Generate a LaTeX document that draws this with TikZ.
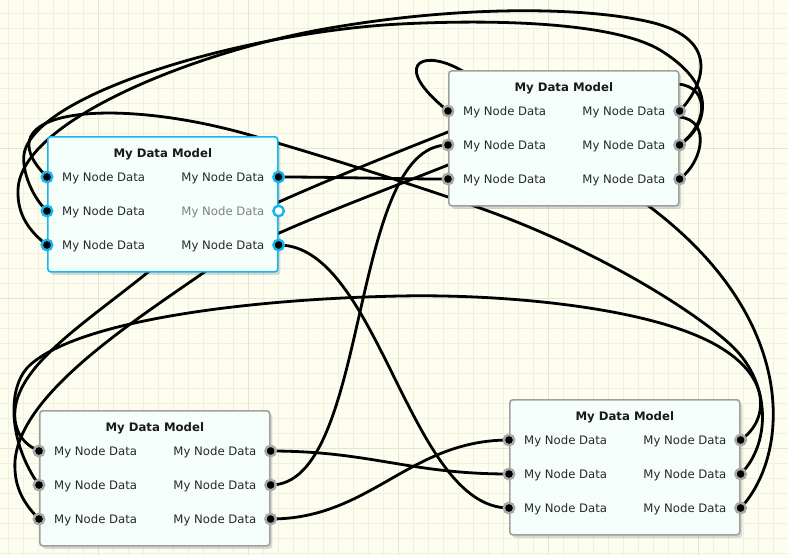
\documentclass[tikz,border=0pt]{standalone}
\usepackage{fontspec}
\setmainfont{DejaVu Sans}
\usepackage{tikz}
\usetikzlibrary{calc, shadows}
\definecolor{canvasbg}{RGB}{253, 253, 240}
\definecolor{gridthin}{RGB}{240, 240, 225}
\definecolor{gridthick}{RGB}{229, 229, 212}
\definecolor{boxfill}{RGB}{244, 255, 251}
\definecolor{boxline}{RGB}{160, 160, 160}
\definecolor{selblue}{RGB}{20, 182, 240}
\definecolor{portring}{RGB}{168, 168, 168}
\definecolor{labeltext}{RGB}{40, 40, 40}
\pgfdeclarelayer{grid}
\pgfdeclarelayer{links}
\pgfsetlayers{grid,links,main}
\tikzset{
  box/.style={draw=boxline, line width=1.6pt, fill=boxfill, rounded corners=3pt,
    minimum width=230pt, minimum height=135pt, inner sep=0pt,
    drop shadow={shadow xshift=2.5pt, shadow yshift=-3pt, fill=black, opacity=0.14}},
  box A/.style={draw=selblue},
  port/.style={circle, draw=portring, line width=2.4pt, fill=black, minimum size=10.5pt, inner sep=0pt},
  port A/.style={draw=selblue},
  port A-out-2/.style={fill=white},
  title/.style={font=\fontsize{11.7}{13}\selectfont\bfseries, text=black!90, anchor=base, inner sep=0pt},
  lbl/.style={font=\fontsize{11.7}{13}\selectfont, text=labeltext, inner sep=0pt},
  lbl A-out-2/.style={text=black!50},
  link/.style={line width=2.8pt, black}
}

\begin{document}
\begin{tikzpicture}[x=1pt, y=-1pt]
\useasboundingbox (0,0) rectangle (788,555);
\begin{pgfonlayer}{grid}
\fill[canvasbg] (0,0) rectangle (788,555);
\foreach \gx in {8,23,...,788} \draw[gridthin, line width=1pt] (\gx,0) -- (\gx,555);
\foreach \gy in {13,28,...,555} \draw[gridthin, line width=1pt] (0,\gy) -- (788,\gy);
\foreach \gx in {98,248,...,788} \draw[gridthick, line width=1pt] (\gx,0) -- (\gx,555);
\foreach \gy in {148,298,448} \draw[gridthick, line width=1pt] (0,\gy) -- (788,\gy);
\end{pgfonlayer}

% data models
\foreach \m/\x/\y in {A/47/136, B/448/70, C/39/410, D/509/399} {
  \node[box, box \m/.try, anchor=north west] (\m) at (\x,\y) {};
  \node[title] (\m-title) at ($(\m.north)+(0,21)$) {My Data Model};
  \foreach \i/\dy in {1/41, 2/75, 3/109} {
    \node[port, port \m/.try] (\m-in-\i) at ($(\m.north west)+(0,\dy)$) {};
    \node[port, port \m/.try, port \m-out-\i/.try] (\m-out-\i) at ($(\m.north east)+(0,\dy)$) {};
    \node[lbl, anchor=base west] (\m-il-\i) at ($(\m-in-\i)+(15,4)$) {My Node Data};
    \node[lbl, lbl \m-out-\i/.try, anchor=base east] (\m-ol-\i) at ($(\m-out-\i)+(-14,4)$) {My Node Data};
  }
}

% links
\begin{pgfonlayer}{links}
\draw[link] (A-out-1.center) .. controls +(60,0) and +(-60,0) .. (B-in-3.center);
\draw[link] (A-out-3.center) .. controls +(100,0) and +(-100,0) .. (D-in-3.center);
\draw[link] (C-out-1.center) .. controls +(100,0) and +(-100,0) .. (D-in-2.center);
\draw[link] (C-out-2.center) .. controls +(100,0) and +(-100,0) .. (B-in-2.center);
\draw[link] (C-out-3.center) .. controls +(100,0) and +(-100,0) .. (D-in-1.center);
\draw[link] (D-out-3.center) .. controls (790,455) and (800,320) .. (650,207)
  .. controls (600,169) and (500,90) .. (457,68) .. controls (420,49) and (392,66) .. (B-in-1.center);
\draw[link] (D-out-2.center) .. controls (770,445) and (772,385) .. (733,347)
  .. controls (700,315) and (600,250) .. (477,207) .. controls (420,187) and (330,158) .. (250,135)
  .. controls (110,95) and (-20,110) .. (A-in-1.center);
\draw[link] (D-out-1.center) .. controls (770,420) and (775,370) .. (700,337)
  .. controls (630,306) and (500,294) .. (400,296) .. controls (250,299) and (80,320) .. (30,365)
  .. controls (5,388) and (10,445) .. (C-in-2.center);
\draw[link] (B-out-1.center) .. controls (700,90) and (726,40) .. (650,22)
  .. controls (590,8) and (470,4) .. (330,28) .. controls (200,50) and (20,120) .. (18,190)
  .. controls (17,215) and (30,232) .. (A-in-3.center);
\draw[link] (B-out-2.center) .. controls (705,128) and (722,88) .. (660,50)
  .. controls (620,26) and (520,18) .. (400,24) .. controls (250,32) and (45,90) .. (25,150)
  .. controls (20,165) and (30,195) .. (A-in-2.center);
\draw[link] (B-out-2.center) .. controls (712,120) and (708,82) .. (672,84)
  .. controls (600,86) and (491,115) .. (448,132) .. controls (360,167) and (200,230) .. (147,273)
  .. controls (80,327) and (10,370) .. (15,420) .. controls (17,435) and (25,445) .. (C-in-1.center);
\draw[link] (B-out-3.center) .. controls (705,160) and (712,114) .. (672,117)
  .. controls (620,121) and (491,148) .. (448,165) .. controls (360,200) and (250,240) .. (203,273)
  .. controls (130,324) and (10,400) .. (15,470) .. controls (16,490) and (25,505) .. (C-in-3.center);
\end{pgfonlayer}
\end{tikzpicture}
\end{document}
